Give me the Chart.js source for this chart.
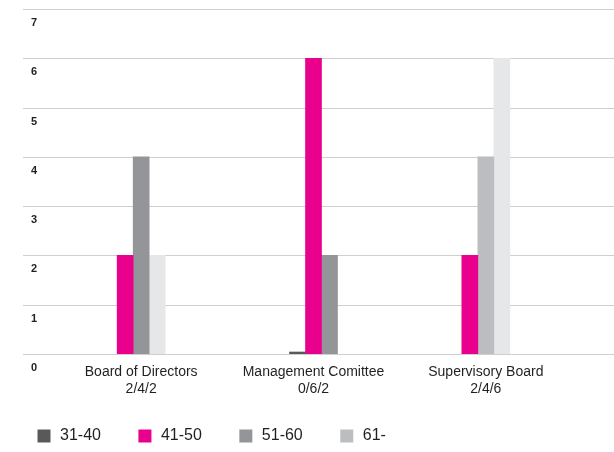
<!DOCTYPE html>
<html>
<head>
<meta charset="utf-8">
<script src="https://cdn.jsdelivr.net/npm/chart.js@4/dist/chart.umd.min.js"></script>
<style>
    html, body { margin: 0; padding: 0; background: #fff; }
    #wrap { width: 614px; height: 452px; }
</style>
</head>
<body>
<div id="wrap"><canvas id="chart" width="614" height="452"></canvas></div>
<script>
// Age structure per body (number of members)
const categories = ['Board of Directors', 'Management Comittee', 'Supervisory Board'];
const groupCounts = ['2/4/2', '0/6/2', '2/4/6'];
const seriesNames = ['31-40', '41-50', '51-60', '61-'];
const age31to40 = [null, 0, null];
const age41to50 = [2, 6, 2];
const age51to60 = [4, 2, 4];
const age61plus = [2, null, 6];
const yTicks = [0, 1, 2, 3, 4, 5, 6, 7];

const FONT = "'Liberation Sans', Arial, sans-serif";
const TEXT = '#231f20';
const GRID = '#cfcfcf';

// the source chart colours some bars differently from its legend
const barColors = ['#58595b', '#e9008c', ['#939598', '#939598', '#bcbdc0'], '#e6e7e8'];
const legendColors = ['#58595b', '#e9008c', '#939598', '#bcbdbf'];

// horizontal grid lines run across the full width, behind the y labels too
const fullGrid = {
    id: 'fullGrid',
    beforeDatasetsDraw(chart) {
        const ctx = chart.ctx;
        const y = chart.scales.y;
        ctx.save();
        ctx.strokeStyle = GRID;
        ctx.lineWidth = 1;
        y.ticks.forEach(t => {
            const py = Math.round(y.getPixelForValue(t.value)) + 0.5;
            ctx.beginPath();
            ctx.moveTo(23, py);
            ctx.lineTo(chart.width, py);
            ctx.stroke();
        });
        ctx.restore();
    }
};

const values = [age31to40, age41to50, age51to60, age61plus];

const chart = new Chart(document.getElementById('chart'), {
    type: 'bar',
    data: {
        labels: categories.map((c, i) => [c, groupCounts[i]]),
        datasets: seriesNames.map((name, i) => ({
            label: name,
            data: values[i],
            backgroundColor: barColors[i],
            borderWidth: 0,
            barThickness: 16,
            skipNull: true,
            minBarLength: i === 0 ? 2 : 0
        }))
    },
    options: {
        responsive: false,
        animation: false,
        layout: { padding: { top: 9, right: 42, bottom: -2, left: 0 } },
        scales: {
            x: {
                grid: { display: false },
                border: { display: false },
                ticks: {
                    color: TEXT,
                    font: { family: FONT, size: 14, lineHeight: 1.2 },
                    // mirrored so the two-line labels are not clipped to the axis box
                    mirror: true,
                    padding: -27,
                    maxRotation: 0,
                    autoSkip: false
                },
                afterFit(scale) {
                    scale.height = 38;
                }
            },
            y: {
                min: 0,
                max: 7,
                afterBuildTicks(scale) {
                    scale.ticks = yTicks.map(v => ({ value: v }));
                },
                grid: { display: false, drawTicks: false },
                border: { display: false },
                ticks: {
                    color: TEXT,
                    font: { family: FONT, size: 11, weight: 'bold' },
                    padding: 18,
                    labelOffset: 14
                },
                afterFit(scale) {
                    scale.width = 55;
                    scale.paddingTop = 0;
                    scale.paddingBottom = 0;
                }
            }
        },
        plugins: {
            legend: {
                position: 'bottom',
                align: 'start',
                labels: {
                    color: TEXT,
                    font: { family: FONT, size: 16 },
                    usePointStyle: true,
                    pointStyle: 'rect',
                    boxHeight: 13,
                    padding: 36,
                    generateLabels(chart) {
                        const items = Chart.defaults.plugins.legend.labels.generateLabels(chart);
                        items.forEach((item, i) => {
                            item.fillStyle = legendColors[i];
                            item.strokeStyle = legendColors[i];
                            item.lineWidth = 0;
                        });
                        return items;
                    }
                }
            },
            tooltip: { enabled: false }
        }
    },
    plugins: [fullGrid]
});
</script>
</body>
</html>
